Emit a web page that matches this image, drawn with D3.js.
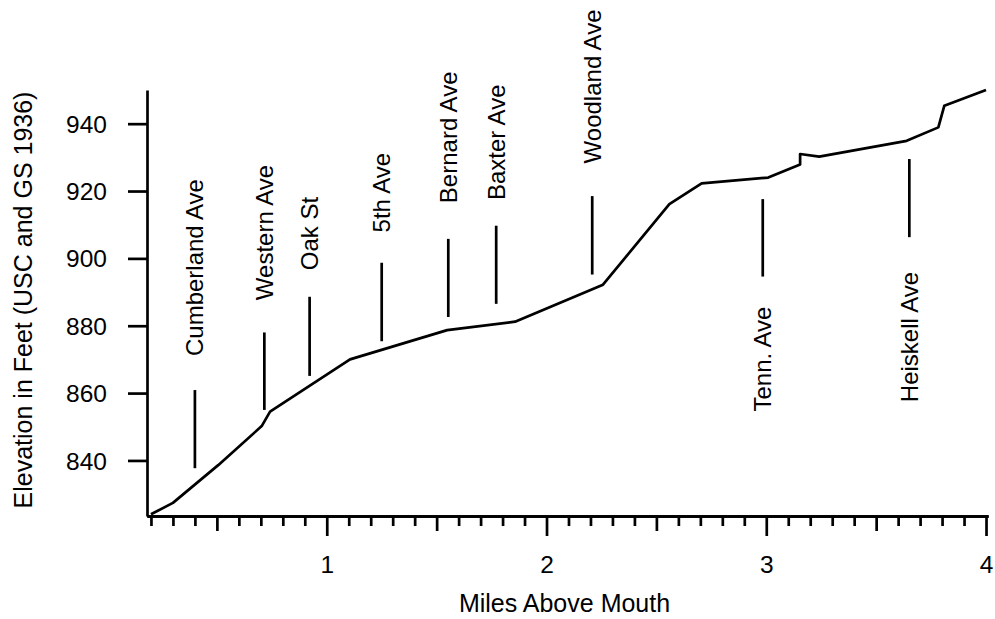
<!DOCTYPE html>
<html>
<head>
<meta charset="utf-8">
<script src="https://cdn.jsdelivr.net/npm/d3@7"></script>
<style>
  html, body { margin: 0; padding: 0; background: #fff; }
  svg { display: block; font-family: "Liberation Sans", Arial, Helvetica, sans-serif; }
</style>
</head>
<body>
<svg id="chart" width="995" height="619"></svg>
<script>
// ---- data ----
const miles     = [0.20, 0.30, 0.506, 0.704, 0.742, 1.106, 1.548, 1.857, 2.257, 2.559, 2.706, 3.009, 3.154, 3.154, 3.241, 3.639, 3.783, 3.810, 4.00];
const elevation = [824.0, 827.4, 838.6, 850.2, 854.5, 870.0, 878.7, 881.2, 892.2, 916.1, 922.3, 924.0, 927.9, 931.0, 930.2, 934.9, 938.9, 945.3, 950.0];

const streetNames  = ["Cumberland Ave", "Western Ave", "Oak St", "5th Ave", "Bernard Ave", "Baxter Ave", "Woodland Ave", "Tenn. Ave", "Heiskell Ave"];
const streetMiles  = [0.400, 0.716, 0.922, 1.250, 1.553, 1.771, 2.208, 2.984, 3.651];
const streetLow    = [837.7, 855.0, 865.1, 875.4, 882.6, 886.5, 895.2, 894.6, 906.3];
const streetHigh   = [860.9, 878.0, 888.6, 898.7, 905.8, 909.7, 918.5, 917.6, 929.5];
const labelElev    = [871.0, 887.6, 896.5, 907.7, 916.4, 917.3, 928.2, 885.7, 896.0];
const labelAbove   = [true, true, true, true, true, true, true, false, false];

const yTicks      = [840, 860, 880, 900, 920, 940];
const xMajorTicks = [1, 2, 3, 4];
const xMidTicks   = [0.5, 1.5, 2.5, 3.5];
const xMinorTicks = d3.range(2, 41).map(d => d / 10).filter(d => Math.abs(d * 2 - Math.round(d * 2)) > 1e-6);

const xTitle = "Miles Above Mouth";
const yTitle = "Elevation in Feet (USC and GS 1936)";

// ---- layout ----
const svg = d3.select("#chart");
const FONT = 24;
const TICKFONT = 24.5;
const TITLEFONT = 25;
const LW = 2.7;

const x = d3.scaleLinear().domain([0.182, 4.009]).range([147, 988]);
const y = d3.scaleLinear().domain([823.5, 950]).range([516, 90]);

// x axis: minor, mid, major
const gx = svg.append("g").attr("transform", `translate(0,${y.range()[0]})`);
gx.append("g").call(d3.axisBottom(x).tickValues(xMinorTicks).tickSize(10).tickSizeOuter(0).tickFormat(""));
gx.append("g").call(d3.axisBottom(x).tickValues(xMidTicks).tickSize(15).tickSizeOuter(0).tickFormat(""));
gx.append("g").call(d3.axisBottom(x).tickValues(xMajorTicks).tickSize(20).tickSizeOuter(0).tickPadding(20).tickFormat(d3.format("d")));
gx.selectAll("path.domain").attr("stroke", "#000").attr("stroke-width", LW);
gx.selectAll(".tick line").attr("stroke", "#000").attr("stroke-width", LW);
gx.selectAll(".tick text").attr("font-size", TICKFONT).attr("fill", "#000").attr("font-family", null);

// y axis
const gy = svg.append("g").attr("transform", `translate(${x.range()[0]},0)`);
gy.call(d3.axisLeft(y).tickValues(yTicks).tickSize(19).tickSizeOuter(0).tickPadding(21).tickFormat(d3.format("d")));
gy.selectAll("path.domain").attr("stroke", "#000").attr("stroke-width", LW);
gy.selectAll(".tick line").attr("stroke", "#000").attr("stroke-width", LW);
gy.selectAll(".tick text").attr("font-size", TICKFONT).attr("fill", "#000").attr("font-family", null).attr("dy", "0.35em");

// titles
svg.append("text")
  .attr("x", (x.range()[0] + x.range()[1]) / 2 - 3)
  .attr("y", 612)
  .attr("text-anchor", "middle")
  .attr("font-size", TITLEFONT)
  .text(xTitle);

svg.append("text")
  .attr("transform", `translate(32,${(y.range()[0] + y.range()[1]) / 2 - 3}) rotate(-90)`)
  .attr("text-anchor", "middle")
  .attr("font-size", TITLEFONT)
  .text(yTitle);

// profile line
const pts = miles.map((m, i) => [m, elevation[i]]);
svg.append("path")
  .datum(pts)
  .attr("fill", "none")
  .attr("stroke", "#000")
  .attr("stroke-width", LW)
  .attr("stroke-linejoin", "round")
  .attr("d", d3.line().x(d => x(d[0])).y(d => y(d[1])));

// street markers
const streets = streetNames.map((n, i) => ({
  name: n, m: streetMiles[i], lo: streetLow[i], hi: streetHigh[i], le: labelElev[i], above: labelAbove[i]
}));
const gs = svg.append("g");
gs.selectAll("line")
  .data(streets)
  .join("line")
  .attr("x1", d => x(d.m)).attr("x2", d => x(d.m))
  .attr("y1", d => y(d.lo)).attr("y2", d => y(d.hi))
  .attr("stroke", "#000").attr("stroke-width", LW);

gs.selectAll("text")
  .data(streets)
  .join("text")
  .attr("transform", d => `translate(${x(d.m)},${y(d.le)}) rotate(-90)`)
  .attr("text-anchor", d => d.above ? "start" : "end")
  .attr("dy", "0.35em")
  .attr("font-size", FONT)
  .text(d => d.name);
</script>
</body>
</html>
